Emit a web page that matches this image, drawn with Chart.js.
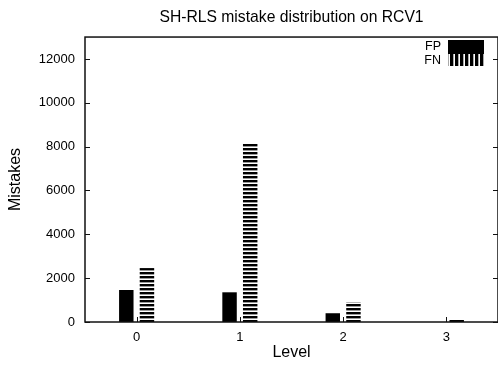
<!DOCTYPE html>
<html>
<head>
<meta charset="utf-8">
<script src="https://cdn.jsdelivr.net/npm/chart.js@4.4.0/dist/chart.umd.min.js"></script>
<style>
  html, body { margin: 0; padding: 0; background: #fff; }
</style>
</head>
<body>
<canvas id="myChart" width="498" height="367"></canvas>
<script>
// values
const levels = ['0', '1', '2', '3'];
const fpMistakes = [1460, 1355, 400, 0];
const fnMistakes = [2460, 8120, 900, 100];
const yTicks = [0, 2000, 4000, 6000, 8000, 10000, 12000];

const FONT = '"Liberation Sans", Arial, sans-serif';

// stripe fill, like gnuplot's pattern
function stripes(vertical, rows) {
    const c = document.createElement('canvas');
    c.width = vertical ? rows.length : 1;
    c.height = vertical ? 1 : rows.length;
    const g = c.getContext('2d');
    rows.forEach((col, i) => {
        g.fillStyle = col;
        if (vertical) g.fillRect(i, 0, 1, 1);
        else g.fillRect(0, i, 1, 1);
    });
    return g.createPattern(c, 'repeat');
}

const ctx = document.getElementById('myChart').getContext('2d');
const fnBars = stripes(false, ['#000', '#000', '#999', '#fff']);
const fnKey = stripes(true, ['#000', '#000', '#000', '#aaa', '#fff']);

// border box, inward ticks and the key
const frame = {
    id: 'frame',
    afterDatasetsDraw(chart) {
        const { ctx, chartArea: a, scales: { x, y } } = chart;
        ctx.save();
        ctx.strokeStyle = '#111';
        ctx.lineWidth = 1.5;
        ctx.strokeRect(a.left, a.top, a.right - a.left, a.bottom - a.top);

        ctx.lineWidth = 1;
        ctx.beginPath();
        yTicks.forEach(v => {
            const py = Math.round(y.getPixelForValue(v)) + 0.5;
            ctx.moveTo(a.left, py); ctx.lineTo(a.left + 5, py);
            ctx.moveTo(a.right, py); ctx.lineTo(a.right - 5, py);
        });
        levels.forEach((l, i) => {
            const px = Math.round(x.getPixelForValue(i)) + 0.5;
            ctx.moveTo(px, a.bottom); ctx.lineTo(px, a.bottom - 5);
        });
        ctx.stroke();

        // key, top right
        const ds = chart.data.datasets;
        ctx.font = '12.5px ' + FONT;
        ctx.fillStyle = '#000';
        ctx.textAlign = 'right';
        ctx.textBaseline = 'middle';
        ctx.fillText(ds[0].label, 441, 47);
        ctx.fillText(ds[1].label, 441, 61);
        ctx.fillStyle = '#000';
        ctx.fillRect(448, 40, 36, 14);
        ctx.fillStyle = fnKey;
        ctx.fillRect(448, 54, 36, 12);
        ctx.restore();
    }
};

let myChart = new Chart(ctx, {
    type: 'bar',
    data: {
        labels: levels,
        datasets: [{
            label: 'FP',
            data: fpMistakes,
            backgroundColor: '#000',
            borderWidth: 0,
            categoryPercentage: 0.4,
            barPercentage: 0.7
        }, {
            label: 'FN',
            data: fnMistakes,
            backgroundColor: fnBars,
            borderWidth: 0,
            categoryPercentage: 0.4,
            barPercentage: 0.7
        }]
    },
    plugins: [frame],
    options: {
        responsive: false,
        animation: false,
        layout: { padding: 0 },
        plugins: {
            legend: { display: false },
            tooltip: { enabled: false },
            title: {
                display: true,
                text: 'SH-RLS mistake distribution on RCV1',
                fullSize: false,
                color: '#000',
                font: { family: FONT, size: 15.7, weight: 'normal' },
                padding: { top: 8, bottom: 10.2 }
            }
        },
        scales: {
            x: {
                grid: { display: false, drawTicks: false },
                border: { display: false },
                ticks: { color: '#000', font: { family: FONT, size: 13 }, padding: 8 },
                title: {
                    display: true,
                    text: 'Level',
                    color: '#000',
                    font: { family: FONT, size: 16 },
                    padding: { top: 0, bottom: 4.4 }
                },
                afterFit: s => { s.height = 45; }
            },
            y: {
                min: 0,
                max: 13000,
                grid: { display: false, drawTicks: false },
                border: { display: false },
                afterBuildTicks: s => { s.ticks = yTicks.map(v => ({ value: v })); },
                ticks: {
                    color: '#000',
                    font: { family: FONT, size: 13 },
                    padding: 10,
                    callback: v => String(v)
                },
                title: {
                    display: true,
                    text: 'Mistakes',
                    color: '#000',
                    font: { family: FONT, size: 16 },
                    padding: { top: 6.4, bottom: 0 }
                },
                afterFit: s => { s.width = 85; }
            }
        }
    }
});
</script>
</body>
</html>
